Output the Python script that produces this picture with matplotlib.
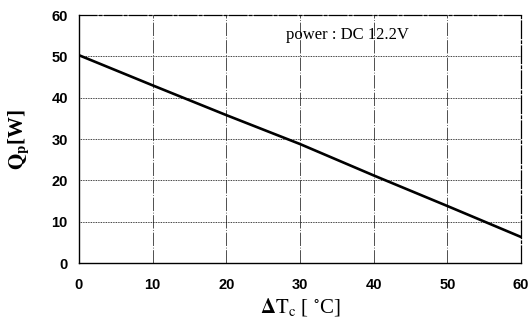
import matplotlib
matplotlib.use("Agg")
import matplotlib.pyplot as plt

# data
dt_c = [0, 10, 20, 30, 40, 50, 60]
q_p = [50.3, 43.0, 35.8, 28.8, 21.2, 13.8, 6.3]
x_ticks = [0, 10, 20, 30, 40, 50, 60]
y_ticks = [0, 10, 20, 30, 40, 50, 60]

plt.rcParams['mathtext.fontset'] = 'stix'

fig = plt.figure(figsize=(5.3, 3.29), dpi=100)
ax = fig.add_axes([0.149, 0.2006, 0.834, 0.7534])

ax.plot(dt_c, q_p, color='black', linewidth=1.9)

ax.set_xlim(0, 60)
ax.set_ylim(0, 60)
ax.set_xticks(x_ticks)
ax.set_yticks(y_ticks)

# grid: dotted horizontals, dash-dot verticals
ax.yaxis.grid(True, linestyle=(0, (1, 1)), color='black', linewidth=0.6)
ax.xaxis.grid(True, linestyle=(0, (16, 2, 1, 2)), color='#333333', linewidth=0.6)

for side in ['left', 'bottom']:
    ax.spines[side].set_linewidth(1.0)
for side in ['top', 'right']:
    ax.spines[side].set_linewidth(0.9)
    ax.spines[side].set_linestyle((0, (14, 2, 2, 2)))

ax.tick_params(length=0)
ax.tick_params(axis='x', pad=11)
ax.tick_params(axis='y', pad=8)
for lbl in ax.get_xticklabels() + ax.get_yticklabels():
    lbl.set_family('Liberation Sans')
    lbl.set_fontweight('bold')
    lbl.set_fontsize(10.5)

ax.set_ylabel(r'$\mathbf{Q_p}$[W]', fontsize=15, family='Liberation Serif',
              fontweight='bold', labelpad=14)
ax.set_xlabel(r'$\mathbf{\Delta}\mathrm{T_c}$ [ $^{\circ}$C]', fontsize=15,
              family='Liberation Serif', labelpad=3)

ax.text(36.5, 55.2, 'power : DC 12.2V', ha='center', va='center',
        fontsize=12, family='Liberation Serif')

fig.savefig('out.png', dpi=100)
